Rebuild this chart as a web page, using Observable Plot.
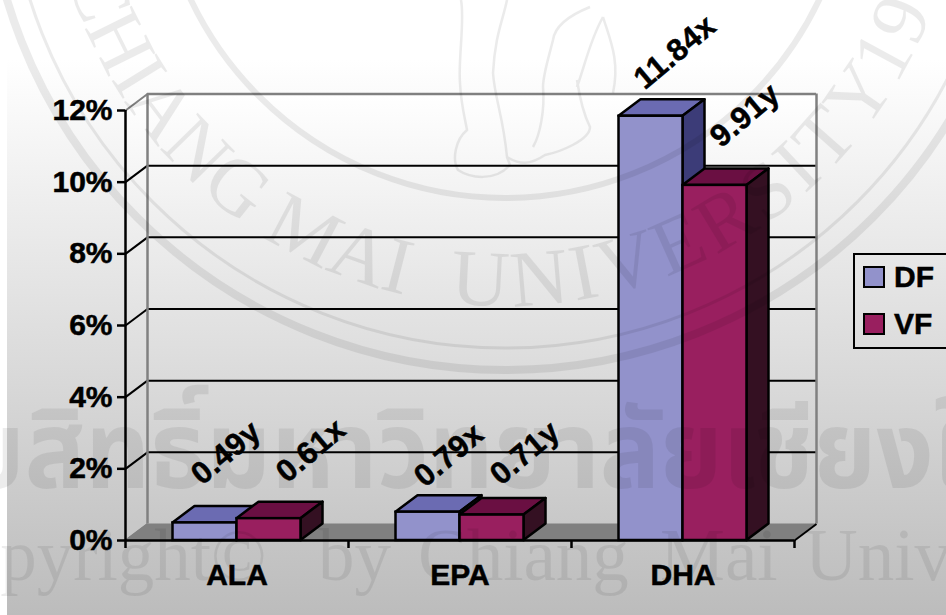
<!DOCTYPE html>
<html>
<head>
<meta charset="utf-8">
<script src="https://cdn.jsdelivr.net/npm/d3@7"></script>
<script src="https://cdn.jsdelivr.net/npm/@observablehq/plot@0.6"></script>
<style>
  html, body { margin: 0; padding: 0; background: #fff; }
  #page { position: relative; width: 946px; height: 615px; overflow: hidden; font-family: "Liberation Sans", Arial, sans-serif; }
  #shade { position: absolute; left: 7px; right: 0; top: 0; bottom: 0;
           background: linear-gradient(#fff 0, #fff 60px, #bcbcbc 615px); }
  #chart { position: absolute; left: 0; top: 0; }
  #chart svg { background: transparent; display: block; overflow: visible; }
  #chart svg text { stroke: #000; stroke-width: 0.5px; }
  #legend { position: absolute; left: 853px; top: 253px; width: 100px; height: 92px; border: 2px solid #000; box-sizing: content-box; }
  .key { position: absolute; left: 8px; width: 18px; height: 18px; border: 2.5px solid #000; }
  .keyLabel { position: absolute; left: 39px; font-size: 30px; line-height: 30px; font-weight: bold; color: #000; -webkit-text-stroke: 0.5px #000; }
  .valueLabel text { letter-spacing: 0.4px; }
  #seal { position: absolute; left: 0; top: 0; pointer-events: none; }
</style>
</head>
<body>
<div id="page">
  <div id="shade"></div>
  <div id="chart"></div>
  <div id="legend"></div>
</div>
<script>
// Fatty acid content per fraction, in percent.
const categories = ["ALA", "EPA", "DHA"];
const seriesNames = ["DF", "VF"];
const dfValues = [0.49, 0.79, 11.84];
const vfValues = [0.61, 0.71, 9.91];
const dfLetters = ["y", "x", "x"];
const vfLetters = ["x", "y", "y"];
const yTicks = [0, 2, 4, 6, 8, 10, 12];

// Face colours of each 3D column: front, top, side.
const faces = {
  DF: {front: "#9292cb", top: "#6b6bb2", side: "#3c3c78"},
  VF: {front: "#991f5f", top: "#6a0f42", side: "#341022"}
};

// Column width and the receding depth vector, in scale units.
const barWidth = 64 / 223;
const depthX = 22 / 223;
const depthY = 16.5 / 35.83;

// Hand-placed value labels: pixel nudges from the column's top centre.
const labelNudge = {
  DF: [[21, -70], [21, -57], [24, -64]],
  VF: [[42, -68], [33, -62], [30, -70]]
};

const columns = seriesNames.flatMap((name, s) => {
  const values = s === 0 ? dfValues : vfValues;
  const letters = s === 0 ? dfLetters : vfLetters;
  return categories.map((category, i) => ({
    name, category, value: values[i], letter: letters[i],
    x1: i + 0.5 + (s - 1) * barWidth,
    x2: i + 0.5 + s * barWidth,
    nudge: labelNudge[name][i]
  }));
});

// Parallelogram outlines for the top and side faces of a column.
const topFace = (c) => [
  {x1: c.x1, y1: c.value, x2: c.x1 + depthX, y2: c.value + depthY},
  {x1: c.x2, y1: c.value, x2: c.x2 + depthX, y2: c.value + depthY}
];
const sideFace = (c) => [
  {x1: c.x2, y1: 0, x2: c.x2, y2: c.value},
  {x1: c.x2 + depthX, y1: depthY, x2: c.x2 + depthX, y2: c.value + depthY}
];
const areaChannels = {x1: "x1", y1: "y1", x2: "x2", y2: "y2"};

const wallGradient = () => {
  const defs = d3.create("svg:defs");
  const g = defs.append("linearGradient").attr("id", "wall")
    .attr("gradientUnits", "userSpaceOnUse")
    .attr("x1", 0).attr("x2", 0).attr("y1", 95).attr("y2", 523);
  g.append("stop").attr("offset", 0).attr("stop-color", "#ffffff");
  g.append("stop").attr("offset", 1).attr("stop-color", "#c8c8c8");
  return defs.node();
};

const textStyle = {fontFamily: "Liberation Sans, Arial, sans-serif", fontWeight: "bold", fontSize: 30};
const frameGray = "#808080";

const chart = Plot.plot({
  width: 946,
  height: 615,
  marginLeft: 125,
  marginRight: 152,
  marginTop: 110,
  marginBottom: 75,
  x: {domain: [0, 3], axis: null},
  y: {domain: [0, 12], axis: null},
  marks: [
    wallGradient,
    // Back and side walls, floor
    Plot.rect([0], {x1: () => depthX, x2: () => 3 + depthX, y1: () => depthY, y2: () => 12 + depthY, fill: "url(#wall)"}),
    Plot.area([
      {x1: 0, y1: 0, x2: 0, y2: 12},
      {x1: depthX, y1: depthY, x2: depthX, y2: 12 + depthY}
    ], {...areaChannels, fill: "url(#wall)"}),
    Plot.area([
      {x1: 0, y1: 0, x2: depthX, y2: depthY},
      {x1: 3, y1: 0, x2: 3 + depthX, y2: depthY}
    ], {...areaChannels, fill: frameGray}),
    // Gridlines on the back wall and their returns on the side wall
    Plot.ruleY(yTicks.slice(1, -1), {x1: () => depthX, x2: () => 3 + depthX, y: (d) => d + depthY, stroke: "#000", strokeWidth: 2}),
    Plot.link(yTicks.slice(1, -1), {x1: () => 0, x2: () => depthX, y1: (d) => d, y2: (d) => d + depthY, stroke: "#000", strokeWidth: 2}),
    // Gray wall frame
    Plot.ruleY([12 + depthY], {x1: () => depthX, x2: () => 3 + depthX, stroke: frameGray, strokeWidth: 2.5}),
    Plot.ruleX([depthX, 3 + depthX], {y1: () => depthY, y2: () => 12 + depthY, stroke: frameGray, strokeWidth: 2.5}),
    Plot.link([0, 12], {x1: () => 0, x2: () => depthX, y1: (d) => d, y2: (d) => d + depthY, stroke: frameGray, strokeWidth: 2}),
    // Columns
    seriesNames.map((name) => {
      const rows = columns.filter((c) => c.name === name);
      return [
        rows.map((c) => Plot.area(topFace(c), {...areaChannels, fill: faces[name].top, stroke: "#000", strokeWidth: 2.5})),
        rows.map((c) => Plot.area(sideFace(c), {...areaChannels, fill: faces[name].side, stroke: "#000", strokeWidth: 2.5})),
        Plot.rect(rows, {x1: "x1", x2: "x2", y1: () => 0, y2: "value", fill: faces[name].front, stroke: "#000", strokeWidth: 2.5})
      ];
    }),
    // Axes
    Plot.ruleX([0], {y1: () => 0, y2: () => 12, stroke: "#000", strokeWidth: 2.5}),
    Plot.ruleY([0], {x1: () => 0, x2: () => 3, stroke: "#000", strokeWidth: 2.5}),
    Plot.link([3], {x1: (d) => d, x2: (d) => d + depthX, y1: () => 0, y2: () => depthY, stroke: "#000", strokeWidth: 2}),
    Plot.axisY({ticks: yTicks, tickSize: 8, tickPadding: 5, strokeWidth: 2.5, stroke: "#000", fill: "#000", tickFormat: (d) => `${d}%`, label: null, ...textStyle}),
    Plot.axisX({ticks: [0, 1, 2, 3], tickSize: 8, strokeWidth: 2.5, stroke: "#000", text: null, label: null}),
    Plot.axisX({ticks: categories.map((_, i) => i + 0.5), tickSize: 0, tickPadding: 23, fill: "#000", tickFormat: (d) => categories[Math.floor(d)], label: null, ...textStyle}),
    // Value labels, slanted above each column
    columns.map((c) => Plot.text([c], {
      x: (d) => (d.x1 + d.x2) / 2,
      y: "value",
      text: (d) => `${d.value.toFixed(2)}${d.letter}`,
      rotate: -40,
      dx: c.nudge[0],
      dy: c.nudge[1],
      fill: "#000",
      className: "valueLabel",
      ...textStyle,
      fontSize: 31
    }))
  ]
});
document.getElementById("chart").append(chart);

// Legend
const legend = d3.select("#legend");
seriesNames.forEach((name, i) => {
  legend.append("div").attr("class", "key")
    .style("top", `${11 + i * 47}px`)
    .style("background", faces[name].front);
  legend.append("div").attr("class", "keyLabel")
    .style("top", `${7 + i * 47}px`)
    .text(name);
});

// University watermark laid over the whole page.
const sealRoot = d3.select("#page").append("svg").attr("id", "seal")
  .attr("width", 946).attr("height", 615);
const seal = sealRoot.append("g").attr("opacity", 0.075);
const cx = 505, cy = -150;
[[348, 6], [498, 3], [520, 8]].forEach(([r, w]) => {
  seal.append("circle").attr("cx", cx).attr("cy", cy).attr("r", r)
    .attr("fill", "none").attr("stroke", "#000").attr("stroke-width", w);
});
const arcR = 456;
seal.append("path").attr("id", "sealArc").attr("fill", "none")
  .attr("d", `M${cx - arcR},${cy} A${arcR},${arcR} 0 0 0 ${cx + arcR},${cy}`);
[["CHIANG MAI", 128, 0], ["UNIVERSITY", 661, 5], ["1964", 1185, 3]].forEach(([word, offset, spacing]) => {
  seal.append("text")
    .attr("font-family", "Liberation Serif, serif").attr("font-size", 80).attr("fill", "#000")
    .attr("letter-spacing", spacing)
    .append("textPath").attr("href", "#sealArc").attr("startOffset", offset)
    .text(word);
});
// Elephant legs at the centre of the crest
[
  "M461,0 C465,20 458,60 460,83 C461,105 465,118 467,130 C455,140 452,160 458,170 C470,178 495,182 510,165 L507,157",
  "M507,0 C503,20 495,35 493,73 C495,100 503,115 507,157 C520,165 530,165 545,155 C560,152 590,140 590,127 C583,113 580,100 577,80",
  "M590,7 C570,15 555,25 553,40 C548,60 543,75 543,87 C545,110 540,135 533,147",
  "M603,17 C590,40 585,65 577,87 M603,17 C610,40 620,60 613,93"
].forEach((d) => {
  seal.append("path").attr("d", d).attr("fill", "none").attr("stroke", "#000").attr("stroke-width", 2.5);
});
const caption = sealRoot.append("g").attr("opacity", 0.07);
caption.append("text")
  .attr("x", -95).attr("y", 488)
  .attr("font-family", "Noto Sans Thai, Noto Sans, Loma, Garuda, DejaVu Sans, sans-serif")
  .attr("font-weight", "bold")
  .attr("font-size", 108).attr("fill", "#000")
  .attr("textLength", 1190).attr("lengthAdjust", "spacingAndGlyphs")
  .text("ลิขสิทธิ์มหาวิทยาลัยเชียงใหม่");
[["Copyright©", -85], ["by", 318], ["Chiang", 418], ["Mai", 660], ["University", 805]].forEach(([word, x]) => {
  caption.append("text").attr("x", x).attr("y", 580)
    .attr("font-family", "Liberation Serif, serif").attr("font-size", 73).attr("fill", "#000")
    .text(word);
});
caption.append("text").attr("x", 20).attr("y", 672)
  .attr("font-family", "Liberation Serif, serif").attr("font-size", 73).attr("fill", "#000")
  .attr("textLength", 900)
  .text("All rights reserved");
</script>
</body>
</html>
